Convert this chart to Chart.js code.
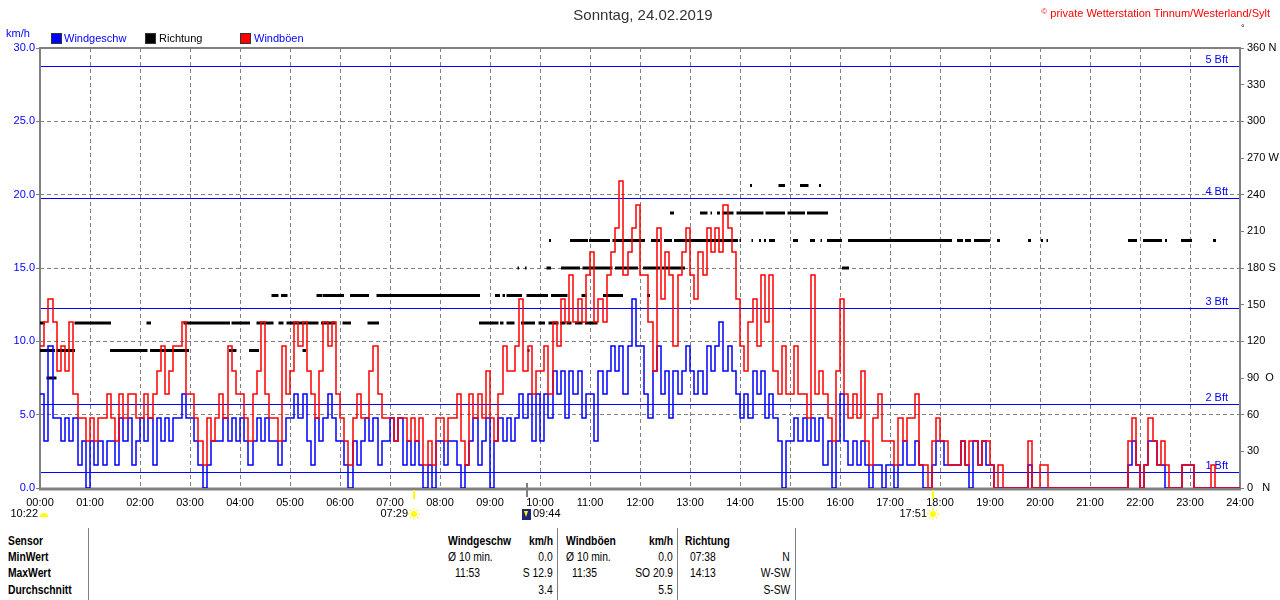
<!DOCTYPE html>
<html>
<head>
<meta charset="utf-8">
<script src="https://cdn.jsdelivr.net/npm/chart.js@4/dist/chart.umd.min.js"></script>
<style>
body { margin: 0; width: 1280px; height: 600px; overflow: hidden; background: #fff; position: relative;
       font-family: "Liberation Sans", Arial, sans-serif; font-size: 11px; }
.t { position: absolute; white-space: pre; line-height: 13px; }
.sq { position: absolute; width: 9px; height: 9px; border: 1px solid #333; }
.tb { position: absolute; white-space: pre; line-height: 14px; font-family: "Liberation Sans", Arial, sans-serif;
      font-size: 12px; transform: scaleX(0.86); transform-origin: left center; }
.r { transform-origin: right center; }
.b { font-weight: bold; }
.vl { position: absolute; top: 528px; height: 72px; width: 1px; background: #808080; }
</style>
</head>
<body>
<canvas id="chart" width="1280" height="520" style="position:absolute;left:0;top:0"></canvas>

<div class="t" style="left:0;width:1286px;top:6px;text-align:center;font-size:15px;line-height:18px;color:#333">Sonntag, 24.02.2019</div>
<div class="t" style="right:10px;top:5px;color:#ff0000"><span style="font-size:8px;vertical-align:3px">©</span> private Wetterstation Tinnum/Westerland/Sylt</div>
<div class="t" style="left:1241px;top:22px;font-size:9px">°</div>
<div class="t" style="left:6px;top:27px;color:#0000ff">km/h</div>

<div class="sq" style="left:51px;top:33px;background:#0000ff"></div>
<div class="t" style="left:64px;top:32px;color:#0000ff">Windgeschw</div>
<div class="sq" style="left:145px;top:33px;background:#000"></div>
<div class="t" style="left:159px;top:32px;color:#000">Richtung</div>
<div class="sq" style="left:240px;top:33px;background:#ff0000"></div>
<div class="t" style="left:254px;top:32px;color:#0000ff">Windböen</div>

<div class="vl" style="left:88px"></div>
<div class="vl" style="left:557px"></div>
<div class="vl" style="left:677px"></div>
<div class="vl" style="left:795px"></div>

<div class="tb b" style="left:8px;top:534px">Sensor</div>
<div class="tb b" style="left:8px;top:550px">MinWert</div>
<div class="tb b" style="left:8px;top:566px">MaxWert</div>
<div class="tb b" style="left:8px;top:583px">Durchschnitt</div>

<div class="tb b" style="left:448px;top:534px">Windgeschw</div>
<div class="tb b r" style="right:727px;top:534px">km/h</div>
<div class="tb" style="left:448px;top:550px">Ø 10 min.</div>
<div class="tb r" style="right:727px;top:550px">0.0</div>
<div class="tb" style="left:455px;top:566px">11:53</div>
<div class="tb r" style="right:727px;top:566px">S 12.9</div>
<div class="tb r" style="right:727px;top:583px">3.4</div>

<div class="tb b" style="left:566px;top:534px">Windböen</div>
<div class="tb b r" style="right:607px;top:534px">km/h</div>
<div class="tb" style="left:566px;top:550px">Ø 10 min.</div>
<div class="tb r" style="right:607px;top:550px">0.0</div>
<div class="tb" style="left:572px;top:566px">11:35</div>
<div class="tb r" style="right:607px;top:566px">SO 20.9</div>
<div class="tb r" style="right:607px;top:583px">5.5</div>

<div class="tb b" style="left:685px;top:534px">Richtung</div>
<div class="tb" style="left:690px;top:550px">07:38</div>
<div class="tb r" style="right:490px;top:550px">N</div>
<div class="tb" style="left:690px;top:566px">14:13</div>
<div class="tb r" style="right:490px;top:566px">W-SW</div>
<div class="tb r" style="right:490px;top:583px">S-SW</div>

<script>
// 5 minute readings, km/h, one row per hour (00:00 ... 23:55)
const windSpeed = [
  6.4, 3.2, 9.7, 4.8, 4.8, 3.2, 4.8, 3.2, 4.8, 1.6, 3.2, 0,
  3.2, 1.6, 3.2, 1.6, 3.2, 3.2, 1.6, 4.8, 3.2, 4.8, 1.6, 3.2,
  4.8, 3.2, 4.8, 1.6, 4.8, 3.2, 4.8, 3.2, 4.8, 4.8, 6.4, 4.8,
  4.8, 3.2, 1.6, 0, 1.6, 3.2, 3.2, 3.2, 4.8, 3.2, 4.8, 3.2,
  4.8, 3.2, 1.6, 3.2, 4.8, 3.2, 4.8, 3.2, 3.2, 1.6, 3.2, 4.8,
  4.8, 6.4, 4.8, 6.4, 3.2, 1.6, 4.8, 3.2, 4.8, 6.4, 4.8, 3.2,
  3.2, 1.6, 0, 3.2, 1.6, 3.2, 4.8, 3.2, 4.8, 1.6, 3.2, 3.2,
  4.8, 3.2, 4.8, 1.6, 3.2, 1.6, 3.2, 1.6, 0, 1.6, 0, 3.2,
  3.2, 1.6, 3.2, 3.2, 1.6, 0, 1.6, 3.2, 4.8, 1.6, 3.2, 4.8,
  0, 3.2, 4.8, 3.2, 4.8, 3.2, 4.8, 6.4, 4.8, 6.4, 3.2, 6.4,
  3.2, 6.4, 4.8, 8.0, 6.4, 8.0, 4.8, 8.0, 6.4, 8.0, 4.8, 6.4,
  6.4, 3.2, 8.0, 6.4, 8.0, 9.7, 8.0, 9.7, 6.4, 9.7, 12.9, 9.7,
  9.7, 6.4, 4.8, 8.0, 9.7, 6.4, 8.0, 4.8, 8.0, 6.4, 8.0, 9.7,
  8.0, 6.4, 8.0, 6.4, 9.7, 8.0, 9.7, 11.3, 8.0, 9.7, 8.0, 6.4,
  4.8, 6.4, 4.8, 8.0, 6.4, 8.0, 4.8, 6.4, 4.8, 3.2, 0, 3.2,
  3.2, 4.8, 3.2, 4.8, 3.2, 4.8, 3.2, 4.8, 1.6, 3.2, 0, 3.2,
  6.4, 3.2, 1.6, 3.2, 1.6, 3.2, 1.6, 0, 1.6, 1.6, 0, 1.6,
  1.6, 0, 1.6, 3.2, 1.6, 1.6, 3.2, 1.6, 0, 0, 1.6, 3.2,
  3.2, 1.6, 1.6, 1.6, 1.6, 3.2, 1.6, 0, 3.2, 1.6, 3.2, 1.6,
  1.6, 0, 0, 0, 0, 0, 0, 0, 0, 1.6, 0, 0,
  0, 0, 0, 0, 0, 0, 0, 0, 0, 0, 0, 0,
  0, 0, 0, 0, 0, 0, 0, 0, 0, 1.6, 3.2, 1.6,
  0, 1.6, 3.2, 3.2, 1.6, 1.6, 0, 0, 0, 0, 1.6, 1.6,
  1.6, 0, 0, 0, 0, 0, 0, 0, 0, 0, 0, 0
];

const windGust = [
  9.7, 11.3, 12.9, 11.3, 8.0, 9.7, 8.0, 11.3, 6.4, 4.8, 4.8, 3.2,
  4.8, 3.2, 4.8, 4.8, 6.4, 4.8, 3.2, 6.4, 4.8, 6.4, 6.4, 4.8,
  4.8, 6.4, 4.8, 6.4, 8.0, 9.7, 6.4, 8.0, 9.7, 9.7, 11.3, 6.4,
  6.4, 4.8, 3.2, 1.6, 4.8, 3.2, 4.8, 6.4, 4.8, 9.7, 8.0, 6.4,
  6.4, 4.8, 3.2, 6.4, 8.0, 11.3, 6.4, 4.8, 4.8, 3.2, 9.7, 6.4,
  8.0, 11.3, 9.7, 11.3, 8.0, 6.4, 4.8, 8.0, 11.3, 9.7, 11.3, 6.4,
  4.8, 3.2, 1.6, 4.8, 6.4, 4.8, 4.8, 8.0, 9.7, 6.4, 4.8, 4.8,
  4.8, 3.2, 4.8, 4.8, 3.2, 4.8, 3.2, 4.8, 1.6, 3.2, 1.6, 4.8,
  4.8, 3.2, 4.8, 4.8, 6.4, 3.2, 1.6, 6.4, 4.8, 6.4, 4.8, 8.0,
  4.8, 3.2, 6.4, 9.7, 8.0, 8.0, 9.7, 12.9, 8.0, 9.7, 6.4, 8.0,
  8.0, 9.7, 6.4, 11.3, 9.7, 12.9, 11.3, 14.5, 11.3, 12.9, 11.3, 14.5,
  16.1, 11.3, 12.9, 11.3, 14.5, 16.1, 17.7, 20.9, 14.5, 16.1, 17.7, 19.3,
  14.5, 14.5, 11.3, 8.0, 17.7, 12.9, 16.1, 14.5, 9.7, 14.5, 16.1, 17.7,
  14.5, 12.9, 16.1, 14.5, 17.7, 16.1, 17.7, 16.1, 19.3, 17.7, 16.1, 12.9,
  9.7, 8.0, 11.3, 12.9, 9.7, 14.5, 11.3, 14.5, 8.0, 6.4, 9.7, 6.4,
  6.4, 9.7, 6.4, 6.4, 4.8, 14.5, 6.4, 8.0, 6.4, 4.8, 3.2, 8.0,
  12.9, 6.4, 4.8, 6.4, 4.8, 8.0, 3.2, 1.6, 4.8, 6.4, 3.2, 3.2,
  3.2, 1.6, 4.8, 3.2, 4.8, 4.8, 6.4, 1.6, 1.6, 0, 3.2, 4.8,
  3.2, 3.2, 1.6, 1.6, 1.6, 3.2, 1.6, 3.2, 3.2, 1.6, 3.2, 3.2,
  1.6, 0, 1.6, 0, 0, 0, 0, 0, 0, 3.2, 0, 0,
  1.6, 1.6, 0, 0, 0, 0, 0, 0, 0, 0, 0, 0,
  0, 0, 0, 0, 0, 0, 0, 0, 0, 3.2, 4.8, 1.6,
  0, 1.6, 4.8, 3.2, 1.6, 3.2, 1.6, 0, 0, 0, 1.6, 1.6,
  1.6, 0, 0, 0, 0, 1.6, 0, 0, 0, 0, 0, 0
];

// wind direction: runs of readings [from hour, to hour] per direction
const runsE = [[0.13, 0.33]];
const runsESE = [[0.00, 0.30], [0.33, 0.70], [1.40, 2.15], [2.20, 2.98], [3.78, 3.93], [4.18, 4.38],
  [5.25, 5.32], [9.75, 9.79]];
const runsSE = [[0.00, 0.10], [0.69, 1.42], [2.13, 2.22], [2.87, 3.80], [3.83, 4.20], [4.33, 4.67],
  [4.77, 4.87], [4.93, 5.57], [5.62, 5.91], [6.05, 6.22], [6.55, 6.78], [8.78, 9.17], [9.20, 9.27],
  [9.33, 9.49], [9.62, 9.90], [9.97, 10.10], [10.17, 10.37], [10.40, 10.51], [10.53, 10.63],
  [10.70, 10.85], [10.90, 11.15]];
const runsSSE = [[4.63, 4.77], [4.82, 4.95], [5.53, 5.65], [5.66, 6.08], [6.20, 6.58], [6.73, 8.80],
  [9.10, 9.20], [9.25, 9.30], [9.33, 9.64], [9.73, 10.16], [10.22, 10.55], [10.83, 10.93],
  [11.26, 11.66], [12.14, 12.20]];
const runsS = [[9.55, 9.58], [9.70, 9.73], [10.13, 10.22], [10.42, 10.80], [10.85, 11.45],
  [11.50, 11.96], [12.06, 12.40], [12.44, 12.90], [16.04, 16.18]];
const runsSSW = [[10.18, 10.22], [10.60, 10.96], [10.98, 11.40], [11.45, 12.10], [12.22, 12.40],
  [12.48, 12.64], [12.68, 13.96], [13.99, 14.02], [14.23, 14.26], [14.38, 14.42], [14.48, 14.52],
  [14.58, 14.70], [15.06, 15.16], [15.40, 15.50], [15.61, 15.64], [15.74, 16.04], [16.16, 18.24],
  [18.34, 18.46], [18.50, 18.62], [18.68, 19.00], [19.14, 19.20], [19.76, 19.82], [20.02, 20.06],
  [20.13, 20.16], [21.76, 21.94], [22.06, 22.44], [22.50, 22.54], [22.82, 23.04], [23.46, 23.52]];
const runsSW = [[12.60, 12.68], [13.20, 13.35], [13.41, 13.44], [13.54, 13.60], [13.65, 13.87],
  [13.93, 14.47], [14.51, 14.90], [14.95, 15.30], [15.34, 15.76]];
const runsWSW = [[14.20, 14.24], [14.77, 14.90], [15.20, 15.37], [15.58, 15.62]];

const dirLevels = [[90, runsE], [112.5, runsESE], [135, runsSE], [157.5, runsSSE],
  [180, runsS], [202.5, runsSSW], [225, runsSW], [247.5, runsWSW]];

const bftLevels = [1.08, 5.76, 12.24, 19.8, 28.8];
const bftLabels = ['1 Bft', '2 Bft', '3 Bft', '4 Bft', '5 Bft'];
const dirTickLabels = { 0: '0   N', 90: '90  O', 180: '180 S', 270: '270 W', 360: '360 N' };

// sun and moon events shown under the time axis
const eventTimes = [0, 7.483, 9.733, 17.85];
const eventTexts = ['10:22', '07:29', '09:44', '17:51'];
const eventKinds = ['moon', 'sunrise', 'moonset', 'sunset'];

function stepPoints(values) {
  const pts = values.map((v, i) => ({ x: i / 12, y: v }));
  pts.push({ x: 24, y: values[values.length - 1] });
  return pts;
}

// one small dataset per direction run
const dirDatasets = [];
dirLevels.forEach(([deg, runs]) => {
  runs.forEach(([a, b]) => {
    dirDatasets.push({
      label: 'Richtung', data: [{ x: a, y: deg }, { x: b, y: deg }],
      borderColor: '#000000', borderWidth: 3, borderCapStyle: 'butt',
      pointRadius: 0, yAxisID: 'y2', order: 2
    });
  });
});

function drawSun(ctx, x, y) {
  ctx.save();
  ctx.fillStyle = '#ffff00';
  ctx.strokeStyle = '#ffff00';
  ctx.lineWidth = 1;
  ctx.beginPath();
  ctx.arc(x, y, 3, 0, Math.PI * 2);
  ctx.fill();
  for (let k = 0; k < 8; k++) {
    const a = k * Math.PI / 4;
    ctx.beginPath();
    ctx.moveTo(x + Math.cos(a) * 4, y + Math.sin(a) * 4);
    ctx.lineTo(x + Math.cos(a) * 6, y + Math.sin(a) * 6);
    ctx.stroke();
  }
  ctx.restore();
}

// put the step lines on whole pixels so every line gets the same weight
const snapPlugin = {
  id: 'snap',
  afterDatasetsUpdate(chart) {
    [0, 1].forEach(i => {
      chart.getDatasetMeta(i).data.forEach(p => {
        p.x = Math.round(p.x);
        p.y = Math.round(p.y);
      });
    });
  }
};

const extrasPlugin = {
  id: 'extras',
  beforeDatasetsDraw(chart) {
    const { ctx, chartArea: ca } = chart;
    const ys = chart.scales.y;
    ctx.save();
    // beaufort limits
    ctx.strokeStyle = '#0000ff';
    ctx.lineWidth = 1;
    ctx.fillStyle = '#0000ff';
    ctx.font = '11px "Liberation Sans", Arial, sans-serif';
    ctx.textAlign = 'right';
    ctx.textBaseline = 'bottom';
    bftLevels.forEach((v, i) => {
      const py = Math.round(ys.getPixelForValue(v)) + 0.5;
      ctx.beginPath();
      ctx.moveTo(ca.left, py);
      ctx.lineTo(ca.right, py);
      ctx.stroke();
      ctx.fillText(bftLabels[i], ca.right - 12, py - 1);
    });
    // frame
    ctx.strokeStyle = '#808080';
    ctx.lineWidth = 2;
    ctx.beginPath();
    ctx.moveTo(ca.left, ca.bottom);
    ctx.lineTo(ca.left, ca.top);
    ctx.lineTo(ca.right, ca.top);
    ctx.lineTo(ca.right, ca.bottom);
    ctx.stroke();
    ctx.lineWidth = 3;
    ctx.beginPath();
    ctx.moveTo(ca.left - 1, ca.bottom + 1);
    ctx.lineTo(ca.right + 1, ca.bottom + 1);
    ctx.stroke();
    ctx.restore();
  },
  afterDraw(chart) {
    const { ctx, chartArea: ca } = chart;
    const xs = chart.scales.x;
    ctx.save();
    ctx.font = '11px "Liberation Sans", Arial, sans-serif';
    ctx.textBaseline = 'middle';
    ctx.fillStyle = '#000';
    const iy = 514;
    eventTimes.forEach((t, i) => {
      const px = Math.round(xs.getPixelForValue(t));
      const kind = eventKinds[i];
      if (kind === 'sunrise' || kind === 'sunset') {
        ctx.fillStyle = '#ffff00';
        ctx.fillRect(px - 1, ca.bottom + 2, 2, 9);
        drawSun(ctx, px, iy);
        ctx.fillStyle = '#000';
        ctx.textAlign = 'right';
        ctx.fillText(eventTexts[i], px - 6, iy);
      } else if (kind === 'moon') {
        ctx.fillStyle = '#ffff00';
        ctx.beginPath();
        ctx.arc(px + 4, iy + 3, 4, Math.PI, 0);
        ctx.closePath();
        ctx.fill();
        ctx.fillStyle = '#000';
        ctx.textAlign = 'right';
        ctx.fillText(eventTexts[i], px - 2, iy);
      } else {
        ctx.fillStyle = '#808080';
        ctx.fillRect(px - 1, ca.bottom - 5, 2, 14);
        ctx.fillStyle = '#1c2878';
        ctx.fillRect(px - 5, iy - 5, 9, 11);
        ctx.fillStyle = '#ffff00';
        ctx.beginPath();
        ctx.moveTo(px - 3, iy - 3);
        ctx.lineTo(px + 1, iy - 3);
        ctx.lineTo(px - 1, iy + 3);
        ctx.closePath();
        ctx.fill();
        ctx.fillStyle = '#000';
        ctx.textAlign = 'left';
        ctx.fillText(eventTexts[i], px + 6, iy);
      }
    });
    ctx.restore();
  }
};

Chart.defaults.font.family = '"Liberation Sans", Arial, sans-serif';
Chart.defaults.font.size = 11;

new Chart(document.getElementById('chart'), {
  type: 'line',
  data: {
    datasets: [
      { label: 'Windböen', data: stepPoints(windGust), borderColor: '#ff0000', borderWidth: 1.5,
        stepped: true, pointRadius: 0, yAxisID: 'y', order: 0 },
      { label: 'Windgeschw', data: stepPoints(windSpeed), borderColor: '#0000ff', borderWidth: 1.5,
        stepped: true, pointRadius: 0, yAxisID: 'y', order: 1 }
    ].concat(dirDatasets)
  },
  options: {
    responsive: false,
    animation: false,
    devicePixelRatio: 1,
    layout: { padding: { top: 48, left: 0, right: 0, bottom: 0 } },
    plugins: { legend: { display: false }, tooltip: { enabled: false } },
    scales: {
      x: {
        type: 'linear', min: 0, max: 24,
        afterFit(s) { s.height = 32; },
        ticks: { stepSize: 1, autoSkip: false, maxRotation: 0, color: '#000', padding: 8,
          callback: v => String(v).padStart(2, '0') + ':00' },
        grid: { color: '#808080', lineWidth: 1, drawTicks: false },
        border: { display: false, dash: [4, 3] }
      },
      y: {
        position: 'left', min: 0, max: 30,
        afterFit(s) { s.width = 40; },
        ticks: { stepSize: 5, color: '#0000ff', padding: 1, callback: v => v.toFixed(1) },
        grid: { color: '#808080', lineWidth: 1, tickLength: 4, tickColor: '#808080', tickBorderDash: [] },
        border: { display: false, dash: [4, 3] }
      },
      y2: {
        position: 'right', min: 0, max: 360,
        afterFit(s) { s.width = 40; },
        ticks: { stepSize: 30, color: '#000', padding: 3, callback: v => dirTickLabels[v] ?? String(v) },
        grid: { drawOnChartArea: false, tickLength: 4, tickColor: '#808080' },
        border: { display: false }
      }
    }
  },
  plugins: [snapPlugin, extrasPlugin]
});
</script>
</body>
</html>
